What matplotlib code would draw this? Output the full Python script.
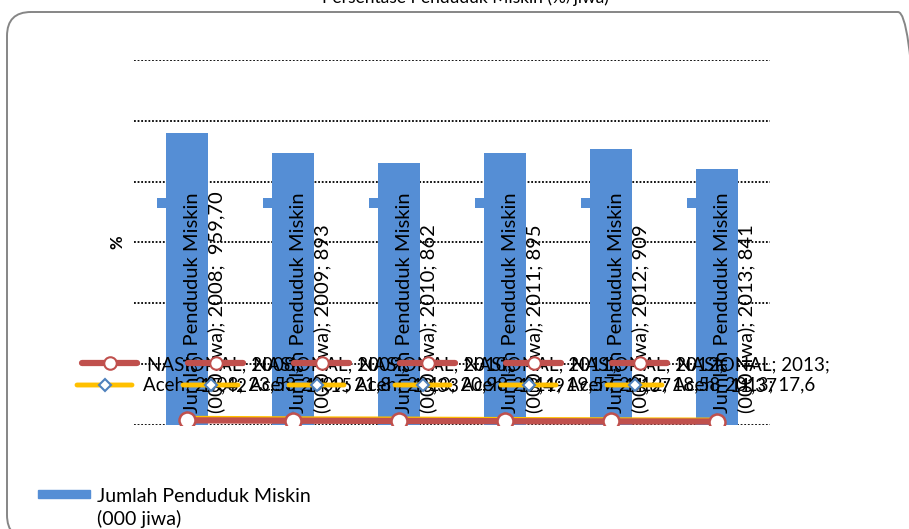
import matplotlib
matplotlib.use('Agg')
import matplotlib.pyplot as plt
import matplotlib.transforms as mtransforms
from matplotlib.patches import FancyBboxPatch, Rectangle

# data
years = ['2008', '2009', '2010', '2011', '2012', '2013']
miskin = [959.70, 893, 862, 895, 909, 841]          # Jumlah Penduduk Miskin (000 jiwa)
nasional = [15.42, 14.15, 13.33, 12.49, 11.67, 11.37]  # %
aceh = [23.53, 21.80, 20.98, 19.57, 18.58, 17.6]      # %

bar_name = 'Jumlah Penduduk Miskin\n(000 jiwa)'
title = 'Persentase Penduduk Miskin (%/jiwa)'

BLUE = '#558ED5'
RED = '#C0504D'
GOLD = '#FFC000'
DKBLUE = '#4F81BD'

plt.rcParams['font.family'] = ['Lato', 'DejaVu Sans']
FS = 13.5

W, H = 909, 529
fig = plt.figure(figsize=(W / 100, H / 100), dpi=100)

# rounded chart-area frame (pixel coords), right and bottom edges run off the image
frame = FancyBboxPatch((7, -10), 915, 529 - 12 + 10, boxstyle='round,pad=0,rounding_size=24',
                       transform=None, facecolor='none', edgecolor='#868686', lw=1.4)
fig.patches.append(frame)

# title, cut off at the top of the image
fig.text(465 / W, 1 - 3 / H, title, ha='center', va='baseline', fontsize=12.5)

ax = fig.add_axes([134 / W, 1 - 425 / H, 636 / W, 365 / H])
x = list(range(len(years)))

bars = ax.bar(x, miskin, width=0.4, color=BLUE, zorder=2)
ax.plot(x, aceh, color=GOLD, lw=3, marker='D', ms=6, mfc='white', mec=DKBLUE, mew=1.5, zorder=4)
ax.plot(x, nasional, color=RED, lw=4.5, marker='o', ms=11.5, mfc='white', mec=RED, mew=1.8,
        zorder=5)

ax.set_xlim(-0.5, 5.5)
ax.set_ylim(0, 1200)
ax.set_yticks(range(0, 1201, 200))
ax.grid(axis='y', color='black', linestyle=(0, (1, 1)), lw=1.3)
ax.set_axisbelow(True)
ax.tick_params(length=0, labelleft=False, labelbottom=False)
for s in ax.spines.values():
    s.set_visible(False)
ax.set_ylabel('%', fontsize=12, fontweight='bold', rotation=90)
ax.yaxis.set_label_coords(-0.014, 0.5)


def off(dx, dy):
    # offset from a data point in pixels (dy positive = down)
    return ax.transData + mtransforms.ScaledTranslation(dx / 100, -dy / 100, fig.dpi_scale_trans)


def fmt_pct(v):
    return ('%g' % v).replace('.', ',')


def fmt_bar(v):
    if v == int(v):
        return str(int(v))
    return ' ' + ('%.2f' % v).replace('.', ',')


for i in x:
    # bar data labels (inside base, rotated) with legend key
    ax.plot(i, 0, marker='s', ms=7.5, color=BLUE, mew=0, transform=off(-25, -222), zorder=3,
            clip_on=False)
    ax.text(i, 0, 'Jumlah Penduduk Miskin\n(000 jiwa); %s; %s' % (years[i], fmt_bar(miskin[i])),
            transform=off(18, -12), rotation=90, ha='center', va='bottom',
            multialignment='left', fontsize=14.5, zorder=6, linespacing=1.45)

    # NASIONAL labels
    ax.annotate('', xy=(i, 0), xycoords=off(-50, -62), xytext=(i, 0), textcoords=off(-105, -62),
                arrowprops=dict(arrowstyle='-', color=RED, lw=4.5, shrinkA=0, shrinkB=0),
                zorder=7, annotation_clip=False)
    ax.plot(i, 0, marker='o', ms=9, mfc='white', mec=RED, mew=1.5, transform=off(-77, -62),
            zorder=8, clip_on=False)
    ax.text(i, 0, 'NASIONAL; %s;\n%s' % (years[i], fmt_pct(nasional[i])), transform=off(36, -50),
            ha='center', va='center', multialignment='center', fontsize=FS, zorder=6,
            linespacing=1.3)

    # Aceh labels
    ax.annotate('', xy=(i, 0), xycoords=off(-55, -40), xytext=(i, 0), textcoords=off(-110, -40),
                arrowprops=dict(arrowstyle='-', color=GOLD, lw=3.5, shrinkA=0, shrinkB=0),
                zorder=7, annotation_clip=False)
    ax.plot(i, 0, marker='D', ms=6, mfc='white', mec=DKBLUE, mew=1.5, transform=off(-82, -40),
            zorder=8, clip_on=False)
    ax.text(i, 0, 'Aceh; %s; %s' % (years[i], fmt_pct(aceh[i])), transform=off(-44, -40),
            ha='left', va='center', fontsize=FS, zorder=6)

# legend bottom-left (key aligned with first text line)
fig.patches.append(Rectangle((38, H - 498), 52, 8, transform=None, color=BLUE))
fig.text(97 / W, 1 - 488 / H, bar_name, ha='left', va='top', fontsize=14, linespacing=1.3)

fig.savefig('out.png', dpi=100)
